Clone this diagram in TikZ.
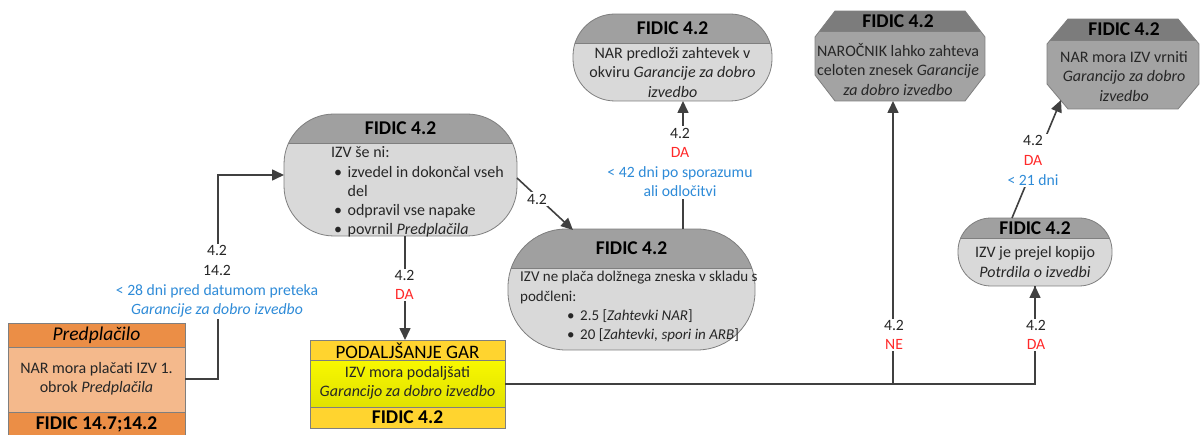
\documentclass[tikz,border=0pt]{standalone}
\usepackage{fontspec}
\setmainfont{Carlito}
\usetikzlibrary{arrows.meta,calc}
\definecolor{lnc}{HTML}{404040}
\definecolor{olc}{HTML}{7F7F7F}
\definecolor{stH}{HTML}{A0A0A0}
\definecolor{stB}{HTML}{D9D9D9}
\definecolor{ocH}{HTML}{7C7C7C}
\definecolor{ocB}{HTML}{A3A3A3}
\definecolor{orH}{HTML}{EB8E46}
\definecolor{orB}{HTML}{F4B98C}
\definecolor{yeH}{HTML}{FFD42F}
\definecolor{yeB}{HTML}{F5F500}
\definecolor{rdc}{HTML}{FF2A2A}
\definecolor{blc}{HTML}{2E8BD8}
\definecolor{txc}{HTML}{262626}
\newcommand\bfnt{\fontsize{16}{19.3}\selectfont}
\newcommand\sbfnt{\fontsize{15}{19.3}\selectfont}
\newcommand\lfnt{\fontsize{15.7}{19.6}\selectfont}
\newcommand\hfnt{\fontsize{19.5}{21}\selectfont\bfseries}
\newcommand\stadshape[6]{%
  \begin{scope}
    \clip[rounded corners=#6] (#1,#2) rectangle (#3,#4);
    \fill[stB] (#1,#2) rectangle (#3,#4);
    \fill[stH] (#1,#2) rectangle (#3,#5);
    \draw[outl] (#1,#5) -- (#3,#5);
  \end{scope}
  \draw[outl, rounded corners=#6] (#1,#2) rectangle (#3,#4);}
\newcommand\octshape[7]{%
  \begin{scope}
    \clip ({#1+#5},#2) -- ({#3-#5},#2) -- (#3,{#2+#6}) -- (#3,{#4-#6}) -- ({#3-#5},#4) -- ({#1+#5},#4) -- (#1,{#4-#6}) -- (#1,{#2+#6}) -- cycle;
    \fill[ocB] (#1,#2) rectangle (#3,#4);
    \fill[ocH] (#1,#2) rectangle (#3,#7);
    \draw[outl] (#1,#7) -- (#3,#7);
  \end{scope}
  \draw[outl] ({#1+#5},#2) -- ({#3-#5},#2) -- (#3,{#2+#6}) -- (#3,{#4-#6}) -- ({#3-#5},#4) -- ({#1+#5},#4) -- (#1,{#4-#6}) -- (#1,{#2+#6}) -- cycle;}
\begin{document}
\begin{tikzpicture}[x=1pt,y=-1pt,
  outl/.style={draw=olc, line width=0.8pt},
  nb/.style={inner sep=0, outer sep=0, draw=none},
  hd/.style={font=\hfnt, text=black, inner sep=0},
  bd/.style={font=\bfnt, text=txc, align=center, inner sep=0},
  lbl/.style={font=\lfnt, text=txc, align=center, fill=white, inner sep=1.5pt},
  conn/.style={draw=lnc, line width=1.6pt},
  arr/.style={conn, -{Triangle[length=12pt,width=11pt]}}]
\useasboundingbox (0,0) rectangle (1201,435);
\fill[white] (0,0) rectangle (1201,435);

% ---- Predplacilo (orange)
\node[nb, minimum width=177, minimum height=112] (p) at (96.5,379) {};
\filldraw[outl, fill=orH] (8,323) rectangle (185,347);
\filldraw[outl, fill=orB] (8,347) rectangle (185,412);
\filldraw[outl, fill=orH] (8,412) rectangle (185,437);
\node[hd, font=\fontsize{19.5}{21}\selectfont\itshape] (p-h) at (96.5,335) {Predplačilo};
\node[bd] (p-b) at (96.5,379) {NAR mora plačati IZV 1.\\obrok \textit{Predplačila}};
\node[hd] (p-f) at (96.5,424) {FIDIC 14.7;14.2};

% ---- Podaljsanje GAR (yellow)
\node[nb, minimum width=195, minimum height=88] (y) at (407.5,384) {};
\filldraw[outl, fill=yeH] (310,340) rectangle (505,360);
\shade[top color=yeB!70!yellow, bottom color=yeB!92!black] (310,360) rectangle (505,407);
\draw[outl] (310,360) rectangle (505,407);
\filldraw[outl, fill=yeH] (310,407) rectangle (505,428);
\node[hd, font=\fontsize{19}{21}\selectfont] (y-h) at (407.5,350.5) {PODALJŠANJE GAR};
\node[bd] (y-b) at (407.5,383) {IZV mora podaljšati\\\textit{Garancijo za dobro izvedbo}};
\node[hd] (y-f) at (407.5,417.5) {FIDIC 4.2};

% ---- S3
\stadshape{284}{114}{517}{236}{143}{50}
\node[nb, minimum width=233, minimum height=122] (s3) at (400.5,175) {};
\node[hd] (s3-h) at (400.5,128.5) {FIDIC 4.2};
\node[bd, anchor=north west, align=left] (s3-b) at (331,144) {%
\begin{tabular}{@{\hspace{3pt}}c@{\hspace{5.5pt}}l@{}}
\multicolumn{2}{@{}l@{}}{IZV še ni:}\\
\textbullet & izvedel in dokončal vseh\\
 & del\\
\textbullet & odpravil vse napake\\
\textbullet & povrnil \textit{Predplačila}
\end{tabular}};

% ---- S4
\stadshape{508}{229}{755}{350}{268}{58}
\node[nb, minimum width=247, minimum height=121] (s4) at (631.5,289.5) {};
\node[hd] (s4-h) at (631.5,248) {FIDIC 4.2};
\node[bd, font=\sbfnt, anchor=north west, align=left] (s4-b) at (520,268) {%
\begin{tabular}{@{\hspace{47pt}}c@{\hspace{5.5pt}}l@{}}
\multicolumn{2}{@{}l@{}}{IZV ne plača dolžnega zneska v skladu s}\\
\multicolumn{2}{@{}l@{}}{podčleni:}\\
\textbullet & 2.5 [\textit{Zahtevki NAR}]\\
\textbullet & 20 [\textit{Zahtevki, spori in ARB}]
\end{tabular}};

% ---- S5
\stadshape{573}{14}{772}{101}{43}{42}
\node[nb, minimum width=199, minimum height=87] (s5) at (672.5,57.5) {};
\node[hd] (s5-h) at (672.5,28.5) {FIDIC 4.2};
\node[bd] (s5-b) at (672.5,72.5) {NAR predloži zahtevek v\\okviru \textit{Garancije za dobro}\\\textit{izvedbo}};

% ---- S8
\stadshape{958}{218}{1112}{286}{238}{33}
\node[nb, minimum width=154, minimum height=68] (s8) at (1035,252) {};
\node[hd] (s8-h) at (1035,228) {FIDIC 4.2};
\node[bd] (s8-b) at (1035,262) {IZV je prejel kopijo\\\textit{Potrdila o izvedbi}};

% ---- O6
\octshape{815}{11}{985}{101}{20}{26}{31}
\node[nb, minimum width=170, minimum height=90] (o6) at (900,56) {};
\node[hd] (o6-h) at (898,21) {FIDIC 4.2};
\node[bd] (o6-b) at (898,69.5) {NAROČNIK lahko zahteva\\celoten znesek \textit{Garancije}\\\textit{za dobro izvedbo}};

% ---- O7
\octshape{1047}{19}{1199}{109}{21}{25}{40}
\node[nb, minimum width=152, minimum height=90] (o7) at (1123,64) {};
\node[hd] (o7-h) at (1124,29.5) {FIDIC 4.2};
\node[bd] (o7-b) at (1124,76.5) {NAR mora IZV vrniti\\\textit{Garancijo za dobro}\\\textit{izvedbo}};

% ---- connectors
\draw[arr] (p.east) -- ++(33,0) |- (s3.west);
\draw[arr] (s3.south -| 405,0) -- (y.north -| 405,0);
\draw[arr] ($(s3.east)+(0,3)$) -- ($(s4.north west)+(65,1)$);
\draw[arr] (s4.north -| 683,0) -- (s5.south -| 683,0);
\draw[conn] (y.east) -| (s8.south);
\draw[arr] ($(y.east -| s8.south)+(0,-1)$) -- (s8.south);
\draw[arr] (y.east -| 893,0) -- (o6.south -| 893,0);
\draw[arr] ($(s8.north)+(-23,0)$) -- ($(o7.south west)+(14,-9)$);

% ---- labels
\node[lbl] (l1) at (217,281.5) {4.2\\14.2\\\textcolor{blc}{< 28 dni pred datumom preteka}\\\textcolor{blc}{\textit{Garancije za dobro izvedbo}}};
\node[lbl] (l2) at (404.5,285) {4.2\\\textcolor{rdc}{DA}};
\node[lbl] (l3) at (537,199) {4.2};
\node[lbl] (l4) at (680,162.5) {4.2\\\textcolor{rdc}{DA}\\\textcolor{blc}{< 42 dni po sporazumu}\\\textcolor{blc}{ali odločitvi}};
\node[lbl] (l5) at (894,335) {4.2\\\textcolor{rdc}{NE}};
\node[lbl] (l6) at (1036,335) {4.2\\\textcolor{rdc}{DA}};
\node[lbl] (l7) at (1033,160.5) {4.2\\\textcolor{rdc}{DA}\\\textcolor{blc}{< 21 dni}};
\end{tikzpicture}
\end{document}
